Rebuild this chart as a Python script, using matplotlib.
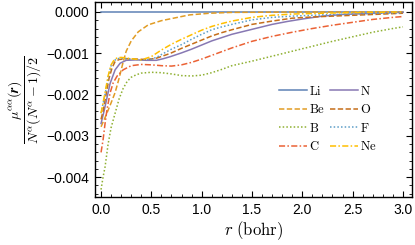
import numpy as np
import matplotlib.pyplot as plt

plt.rcParams["mathtext.fontset"] = "cm"

elements = ["Li", "Be", "B", "C", "N", "O", "F", "Ne"]

# r (bohr) and mu / (N(N-1)/2)
r_li = [0.0, 3.0]
mu_li = [0.0, 0.0]

r_be = [0.0, 0.05, 0.1, 0.14, 0.18, 0.22, 0.25, 0.3, 0.37, 0.47, 0.6, 0.74, 0.88, 1.08, 1.3, 2.0, 3.0]
mu_be = [-0.00278, -0.0025, -0.0022, -0.00195, -0.0016, -0.00121, -0.00095, -0.0007, -0.00048,
         -0.00031, -0.00021, -0.00014, -0.00007, -0.00003, -0.00001, 0.0, 0.0]

r_b = [0.0, 0.02, 0.04, 0.07, 0.1, 0.14, 0.18, 0.22, 0.26, 0.3, 0.35, 0.4, 0.5, 0.6, 0.7, 0.8,
       0.9, 1.0, 1.1, 1.2, 1.3, 1.5, 1.7, 1.9, 2.1, 2.3, 2.5, 2.7, 2.9, 3.0]
mu_b = [-0.0043, -0.004, -0.00375, -0.0032, -0.0028, -0.00245, -0.0021, -0.00185, -0.00168,
        -0.00158, -0.00152, -0.00148, -0.00146, -0.00147, -0.0015, -0.00154, -0.00155, -0.00153,
        -0.00147, -0.00139, -0.0013, -0.00119, -0.00107, -0.00095, -0.00083, -0.00071, -0.0006,
        -0.00049, -0.0004, -0.00036]

r_c = [0.0, 0.02, 0.04, 0.06, 0.09, 0.12, 0.16, 0.22, 0.3, 0.4, 0.5, 0.6, 0.7, 0.8, 0.9, 1.0,
       1.1, 1.2, 1.3, 1.5, 1.7, 1.9, 2.1, 2.3, 2.5, 2.7, 2.9, 3.0]
mu_c = [-0.0034, -0.0031, -0.0027, -0.00235, -0.00196, -0.00172, -0.00155, -0.0014, -0.0013,
        -0.00127, -0.00128, -0.0013, -0.00131, -0.00128, -0.00122, -0.00114, -0.00105, -0.00096,
        -0.00087, -0.00071, -0.00059, -0.00049, -0.0004, -0.00032, -0.00025, -0.00018, -0.00013,
        -0.00011]

r_n = [0.0, 0.03, 0.057, 0.09, 0.14, 0.19, 0.25, 0.35, 0.45, 0.55, 0.62, 0.69, 0.8, 0.9, 1.0,
       1.1, 1.2, 1.3, 1.5, 1.7, 1.85, 2.0, 2.2, 2.4, 2.6, 2.8, 3.0]
mu_n = [-0.0027, -0.0024, -0.0021, -0.00173, -0.0014, -0.00124, -0.00117, -0.00116, -0.00117,
        -0.00117, -0.00113, -0.00108, -0.00099, -0.0009, -0.0008, -0.0007, -0.00062, -0.00054,
        -0.00042, -0.0003, -0.00023, -0.00017, -0.0001, -0.00006, -0.00004, -0.00002, -0.00001]

r_o = [0.0, 0.02, 0.05, 0.08, 0.11, 0.14, 0.18, 0.25, 0.35, 0.45, 0.55, 0.62, 0.69, 0.8, 0.9,
       1.0, 1.1, 1.2, 1.3, 1.5, 1.7, 1.9, 2.1, 2.3, 2.6, 2.8, 3.0]
mu_o = [-0.0026, -0.0024, -0.002, -0.0016, -0.00135, -0.0012, -0.00115, -0.00113, -0.00114,
        -0.00115, -0.00112, -0.00106, -0.001, -0.00088, -0.00078, -0.00068, -0.00058, -0.0005,
        -0.00043, -0.0003, -0.00022, -0.00015, -0.00012, -0.0001, -0.00007, -0.00005, -0.00003]

r_f = [0.0, 0.02, 0.04, 0.07, 0.1, 0.13, 0.16, 0.2, 0.3, 0.4, 0.5, 0.55, 0.6, 0.7, 0.8, 0.9,
       1.0, 1.1, 1.2, 1.3, 1.5, 1.7, 1.9, 2.2, 2.6, 3.0]
mu_f = [-0.00245, -0.00222, -0.002, -0.0016, -0.0013, -0.00118, -0.00113, -0.00112, -0.00114,
        -0.00116, -0.00114, -0.0011, -0.00103, -0.0009, -0.00079, -0.00066, -0.00054, -0.00043,
        -0.00036, -0.0003, -0.00019, -0.00013, -0.0001, -0.00007, -0.00004, -0.00002]

r_ne = [0.0, 0.02, 0.04, 0.07, 0.1, 0.13, 0.16, 0.2, 0.3, 0.4, 0.5, 0.55, 0.6, 0.7, 0.8, 0.9,
        1.0, 1.1, 1.2, 1.3, 1.5, 1.7, 1.9, 2.2, 2.6, 3.0]
mu_ne = [-0.00245, -0.0022, -0.00195, -0.00155, -0.00128, -0.00116, -0.00111, -0.0011, -0.00113,
         -0.00116, -0.00108, -0.001, -0.00092, -0.00078, -0.00066, -0.00055, -0.00044, -0.00035,
         -0.00028, -0.00022, -0.00013, -0.00008, -0.00005, -0.00003, -0.00001, 0.0]

x_ticks = [0.0, 0.5, 1.0, 1.5, 2.0, 2.5, 3.0]
x_ticklabels = ["0.0", "0.5", "1.0", "1.5", "2.0", "2.5", "3.0"]
y_ticks = [0.0, -0.001, -0.002, -0.003, -0.004]
y_ticklabels = ["0.000", "\u22120.001", "\u22120.002", "\u22120.003", "\u22120.004"]

curves = [(r_li, mu_li), (r_be, mu_be), (r_b, mu_b), (r_c, mu_c),
          (r_n, mu_n), (r_o, mu_o), (r_f, mu_f), (r_ne, mu_ne)]
colors = ["#5E81B5", "#E19C24", "#8FB032", "#EB6235",
          "#8778B3", "#C56E1A", "#5D9EC7", "#FFBF00"]
dashes = [None, (3.5, 1.6), (1.0, 1.4), (4, 1.5, 1, 1.5),
          None, (3.5, 1.6), (1.0, 1.4), (4, 1.5, 1, 1.5)]

fig = plt.figure(figsize=(4.15, 2.45), dpi=100)
ax = fig.add_axes([95 / 415, 48 / 245, 317 / 415, 195 / 245])

for (r, mu), name, c, d in zip(curves, elements, colors, dashes):
    line, = ax.plot(r, mu, color=c, lw=1.1, label=name)
    if d is not None:
        line.set_dashes(d)

ax.set_xlim(-0.06, 3.09)
ax.set_ylim(-0.00448, 0.000242)

ax.set_xticks(x_ticks)
ax.set_xticklabels(x_ticklabels, family="Liberation Sans", fontsize=10)
ax.set_yticks(y_ticks)
ax.set_yticklabels(y_ticklabels, family="Liberation Sans", fontsize=10)
ax.set_xticks(np.arange(-0.0, 3.05, 0.1), minor=True)
ax.set_yticks(np.arange(-0.0044, 0.0002, 0.0002), minor=True)
ax.tick_params(which="both", direction="in", top=True, right=True)
ax.tick_params(which="major", length=4, width=0.8, pad=4)
ax.tick_params(which="minor", length=2, width=0.6)
for s in ax.spines.values():
    s.set_linewidth(1.0)

ax.set_xlabel(r"$r\ \mathrm{(bohr)}$", fontsize=12, labelpad=2)
ax.set_ylabel(r"$\dfrac{\mu^{\alpha\alpha}(\boldsymbol{r})}{N^{\alpha}(N^{\alpha}-1)/2}$", fontsize=10)
ax.yaxis.set_label_coords(-0.16, 0.5)

ax.legend(ncol=2, frameon=False, loc="center", bbox_to_anchor=(0.735, 0.4),
          prop={"family": "DejaVu Serif", "size": 9}, handlelength=2.2,
          handletextpad=0.2, columnspacing=0.4, labelspacing=0.45, borderpad=0)
for t in ax.get_legend().get_texts():
    t.set_text(r"$\mathrm{" + t.get_text() + "}$")

fig.savefig("out.png", dpi=100)
